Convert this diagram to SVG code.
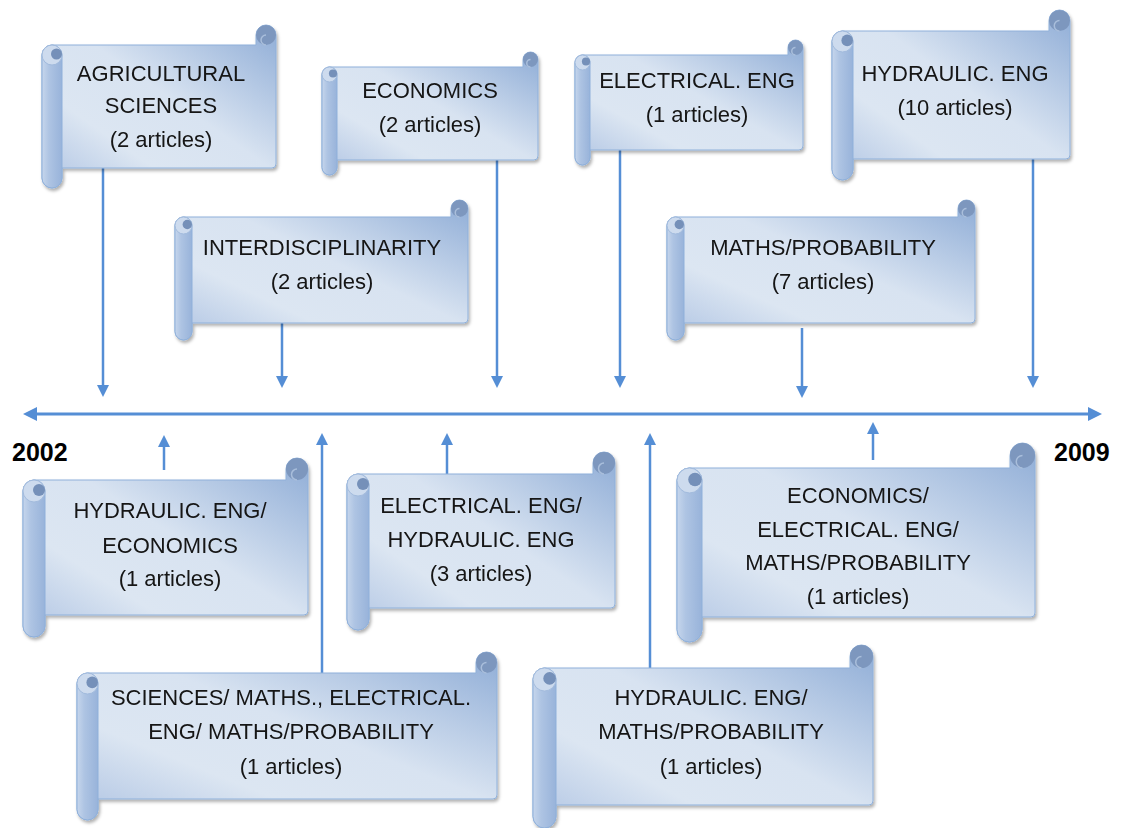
<svg xmlns="http://www.w3.org/2000/svg" width="1124" height="828" viewBox="0 0 1124 828">
<defs>
<linearGradient id="gBody" x1="1" y1="0" x2="0" y2="1">
<stop offset="0" stop-color="#8eacd6"/>
<stop offset="0.45" stop-color="#d8e3f1"/>
<stop offset="0.7" stop-color="#dce6f2"/>
<stop offset="1" stop-color="#adc2e2"/>
</linearGradient>
<linearGradient id="gRoll" x1="0" y1="0" x2="1" y2="0">
<stop offset="0" stop-color="#c6d6ec"/>
<stop offset="0.35" stop-color="#aec4e3"/>
<stop offset="1" stop-color="#98b3da"/>
</linearGradient>
<filter id="sh" x="-5%" y="-5%" width="112%" height="115%">
<feDropShadow dx="1.5" dy="2.5" stdDeviation="1.5" flood-color="#000" flood-opacity="0.3"/>
</filter>
<marker id="ah" viewBox="0 0 12 12" refX="2" refY="6" markerWidth="12" markerHeight="12" markerUnits="userSpaceOnUse" orient="auto-start-reverse">
<path d="M0,0 L12,6 L0,12 Z" fill="#558ed5"/>
</marker>
<marker id="ahL" viewBox="0 0 14 14" refX="2" refY="7" markerWidth="14" markerHeight="14" markerUnits="userSpaceOnUse" orient="auto-start-reverse">
<path d="M0,0 L14,7 L0,14 Z" fill="#558ed5"/>
</marker>
</defs>
<style>
.body{fill:url(#gBody);stroke:#8fb0da;stroke-width:1}
.roll{fill:url(#gRoll);stroke:#8fb0da;stroke-width:1}
.curl{fill:#7d97be}
.hook{fill:none;stroke:#a9bedb;stroke-width:1.5}
.top{fill:#cddbee;stroke:#a2bbdd;stroke-width:1}
.dot{fill:#7590b9}
.node{filter:url(#sh)}
.lbl{font-family:"Liberation Sans",Arial,sans-serif;font-size:22px;fill:#141414;text-anchor:middle}
.yr{font-family:"Liberation Sans",Arial,sans-serif;font-size:25px;font-weight:bold;fill:#000}
.con line{stroke:#558ed5;stroke-width:2.5;marker-end:url(#ah)}
</style>
<rect width="1124" height="828" fill="#fff"/>

<g id="connectors" class="con">
<line x1="35" y1="414" x2="1090" y2="414" style="stroke-width:3;marker-start:url(#ahL);marker-end:url(#ahL)"/>
<line x1="103" y1="168" x2="103" y2="387"/>
<line x1="282" y1="323" x2="282" y2="378"/>
<line x1="497" y1="160" x2="497" y2="378"/>
<line x1="620" y1="150" x2="620" y2="378"/>
<line x1="802" y1="328" x2="802" y2="388"/>
<line x1="1033" y1="159" x2="1033" y2="378"/>
<line x1="164" y1="470" x2="164" y2="445"/>
<line x1="322" y1="673" x2="322" y2="443"/>
<line x1="447" y1="474" x2="447" y2="443"/>
<line x1="650" y1="668" x2="650" y2="443"/>
<line x1="873" y1="460" x2="873" y2="432"/>
</g>

<g id="n-agri" class="node">
<path class="body" d="M42,55 A10,10 0 0 1 52,45 H256 V35 A10,10 0 0 1 276,35 V164 Q276,168 272,168 H62 V178 A10,10 0 0 1 42,178 Z"/>
<path class="roll" d="M42,55 A10,10 0 0 1 62,55 V178 A10,10 0 0 1 42,178 Z"/>
<circle class="top" cx="52" cy="55" r="10"/><circle class="dot" cx="56.5" cy="54" r="5.5"/>
<circle class="curl" cx="266" cy="35" r="10"/><path class="hook" d="M266,45 A5,5 0 0 1 266,35"/>
<text class="lbl"><tspan x="161" y="81">AGRICULTURAL</tspan><tspan x="161" y="113">SCIENCES</tspan><tspan x="161" y="147">(2 articles)</tspan></text>
</g>

<g id="n-econ" class="node">
<path class="body" d="M322,74.5 A7.5,7.5 0 0 1 329.5,67 H523 V59.5 A7.5,7.5 0 0 1 538,59.5 V156 Q538,160 534,160 H337 V167.5 A7.5,7.5 0 0 1 322,167.5 Z"/>
<path class="roll" d="M322,74.5 A7.5,7.5 0 0 1 337,74.5 V167.5 A7.5,7.5 0 0 1 322,167.5 Z"/>
<circle class="top" cx="329.5" cy="74.5" r="7.5"/><circle class="dot" cx="333" cy="73.5" r="4.1"/>
<circle class="curl" cx="530.5" cy="59.5" r="7.5"/><path class="hook" d="M530.5,67 A3.75,3.75 0 0 1 530.5,59.5"/>
<text class="lbl"><tspan x="430" y="98">ECONOMICS</tspan><tspan x="430" y="132">(2 articles)</tspan></text>
</g>

<g id="n-elec" class="node">
<path class="body" d="M575,62.5 A7.5,7.5 0 0 1 582.5,55 H788 V47.5 A7.5,7.5 0 0 1 803,47.5 V146 Q803,150 799,150 H590 V157.5 A7.5,7.5 0 0 1 575,157.5 Z"/>
<path class="roll" d="M575,62.5 A7.5,7.5 0 0 1 590,62.5 V157.5 A7.5,7.5 0 0 1 575,157.5 Z"/>
<circle class="top" cx="582.5" cy="62.5" r="7.5"/><circle class="dot" cx="586" cy="61.5" r="4.1"/>
<circle class="curl" cx="795.5" cy="47.5" r="7.5"/><path class="hook" d="M795.5,55 A3.75,3.75 0 0 1 795.5,47.5"/>
<text class="lbl"><tspan x="697" y="88">ELECTRICAL. ENG</tspan><tspan x="697" y="122">(1 articles)</tspan></text>
</g>

<g id="n-hyd" class="node">
<path class="body" d="M832,41.5 A10.5,10.5 0 0 1 842.5,31 H1049 V20.5 A10.5,10.5 0 0 1 1070,20.5 V155 Q1070,159 1066,159 H853 V169.5 A10.5,10.5 0 0 1 832,169.5 Z"/>
<path class="roll" d="M832,41.5 A10.5,10.5 0 0 1 853,41.5 V169.5 A10.5,10.5 0 0 1 832,169.5 Z"/>
<circle class="top" cx="842.5" cy="41.5" r="10.5"/><circle class="dot" cx="847.2" cy="40.4" r="5.8"/>
<circle class="curl" cx="1059.5" cy="20.5" r="10.5"/><path class="hook" d="M1059.5,31 A5.25,5.25 0 0 1 1059.5,20.5"/>
<text class="lbl"><tspan x="955" y="81">HYDRAULIC. ENG</tspan><tspan x="955" y="115">(10 articles)</tspan></text>
</g>

<g id="n-inter" class="node">
<path class="body" d="M175,225.5 A8.5,8.5 0 0 1 183.5,217 H451 V208.5 A8.5,8.5 0 0 1 468,208.5 V319 Q468,323 464,323 H192 V331.5 A8.5,8.5 0 0 1 175,331.5 Z"/>
<path class="roll" d="M175,225.5 A8.5,8.5 0 0 1 192,225.5 V331.5 A8.5,8.5 0 0 1 175,331.5 Z"/>
<circle class="top" cx="183.5" cy="225.5" r="8.5"/><circle class="dot" cx="187.3" cy="224.5" r="4.7"/>
<circle class="curl" cx="459.5" cy="208.5" r="8.5"/><path class="hook" d="M459.5,217 A4.25,4.25 0 0 1 459.5,208.5"/>
<text class="lbl"><tspan x="322" y="255">INTERDISCIPLINARITY</tspan><tspan x="322" y="289">(2 articles)</tspan></text>
</g>

<g id="n-maths" class="node">
<path class="body" d="M667,225.5 A8.5,8.5 0 0 1 675.5,217 H958 V208.5 A8.5,8.5 0 0 1 975,208.5 V319 Q975,323 971,323 H684 V331.5 A8.5,8.5 0 0 1 667,331.5 Z"/>
<path class="roll" d="M667,225.5 A8.5,8.5 0 0 1 684,225.5 V331.5 A8.5,8.5 0 0 1 667,331.5 Z"/>
<circle class="top" cx="675.5" cy="225.5" r="8.5"/><circle class="dot" cx="679.3" cy="224.5" r="4.7"/>
<circle class="curl" cx="966.5" cy="208.5" r="8.5"/><path class="hook" d="M966.5,217 A4.25,4.25 0 0 1 966.5,208.5"/>
<text class="lbl"><tspan x="823" y="255">MATHS/PROBABILITY</tspan><tspan x="823" y="289">(7 articles)</tspan></text>
</g>

<g id="n-hyd-econ" class="node">
<path class="body" d="M23,491 A11,11 0 0 1 34,480 H286 V469 A11,11 0 0 1 308,469 V611 Q308,615 304,615 H45 V626 A11,11 0 0 1 23,626 Z"/>
<path class="roll" d="M23,491 A11,11 0 0 1 45,491 V626 A11,11 0 0 1 23,626 Z"/>
<circle class="top" cx="34" cy="491" r="11"/><circle class="dot" cx="39" cy="490" r="6"/>
<circle class="curl" cx="297" cy="469" r="11"/><path class="hook" d="M297,480 A5.5,5.5 0 0 1 297,469"/>
<text class="lbl"><tspan x="170" y="518">HYDRAULIC. ENG/</tspan><tspan x="170" y="553">ECONOMICS</tspan><tspan x="170" y="586">(1 articles)</tspan></text>
</g>

<g id="n-elec-hyd" class="node">
<path class="body" d="M347,485 A11,11 0 0 1 358,474 H593 V463 A11,11 0 0 1 615,463 V604 Q615,608 611,608 H369 V619 A11,11 0 0 1 347,619 Z"/>
<path class="roll" d="M347,485 A11,11 0 0 1 369,485 V619 A11,11 0 0 1 347,619 Z"/>
<circle class="top" cx="358" cy="485" r="11"/><circle class="dot" cx="363" cy="484" r="6"/>
<circle class="curl" cx="604" cy="463" r="11"/><path class="hook" d="M604,474 A5.5,5.5 0 0 1 604,463"/>
<text class="lbl"><tspan x="481" y="513">ELECTRICAL. ENG/</tspan><tspan x="481" y="547">HYDRAULIC. ENG</tspan><tspan x="481" y="581">(3 articles)</tspan></text>
</g>

<g id="n-econ-elec-maths" class="node">
<path class="body" d="M677,480.5 A12.5,12.5 0 0 1 689.5,468 H1010 V455.5 A12.5,12.5 0 0 1 1035,455.5 V613 Q1035,617 1031,617 H702 V629.5 A12.5,12.5 0 0 1 677,629.5 Z"/>
<path class="roll" d="M677,480.5 A12.5,12.5 0 0 1 702,480.5 V629.5 A12.5,12.5 0 0 1 677,629.5 Z"/>
<circle class="top" cx="689.5" cy="480.5" r="12.5"/><circle class="dot" cx="695" cy="479.5" r="6.8"/>
<circle class="curl" cx="1022.5" cy="455.5" r="12.5"/><path class="hook" d="M1022.5,468 A6.25,6.25 0 0 1 1022.5,455.5"/>
<text class="lbl"><tspan x="858" y="503">ECONOMICS/</tspan><tspan x="858" y="537">ELECTRICAL. ENG/</tspan><tspan x="858" y="570">MATHS/PROBABILITY</tspan><tspan x="858" y="604">(1 articles)</tspan></text>
</g>

<g id="n-sciences" class="node">
<path class="body" d="M77,683.5 A10.5,10.5 0 0 1 87.5,673 H476 V662.5 A10.5,10.5 0 0 1 497,662.5 V795 Q497,799 493,799 H98 V809.5 A10.5,10.5 0 0 1 77,809.5 Z"/>
<path class="roll" d="M77,683.5 A10.5,10.5 0 0 1 98,683.5 V809.5 A10.5,10.5 0 0 1 77,809.5 Z"/>
<circle class="top" cx="87.5" cy="683.5" r="10.5"/><circle class="dot" cx="92.2" cy="682.4" r="5.8"/>
<circle class="curl" cx="486.5" cy="662.5" r="10.5"/><path class="hook" d="M486.5,673 A5.25,5.25 0 0 1 486.5,662.5"/>
<text class="lbl"><tspan x="291" y="705">SCIENCES/ MATHS., ELECTRICAL.</tspan><tspan x="291" y="739">ENG/ MATHS/PROBABILITY</tspan><tspan x="291" y="774">(1 articles)</tspan></text>
</g>

<g id="n-hyd-maths" class="node">
<path class="body" d="M533,679.5 A11.5,11.5 0 0 1 544.5,668 H850 V656.5 A11.5,11.5 0 0 1 873,656.5 V801 Q873,805 869,805 H556 V816.5 A11.5,11.5 0 0 1 533,816.5 Z"/>
<path class="roll" d="M533,679.5 A11.5,11.5 0 0 1 556,679.5 V816.5 A11.5,11.5 0 0 1 533,816.5 Z"/>
<circle class="top" cx="544.5" cy="679.5" r="11.5"/><circle class="dot" cx="549.6" cy="678.4" r="6.3"/>
<circle class="curl" cx="861.5" cy="656.5" r="11.5"/><path class="hook" d="M861.5,668 A5.75,5.75 0 0 1 861.5,656.5"/>
<text class="lbl"><tspan x="711" y="705">HYDRAULIC. ENG/</tspan><tspan x="711" y="739">MATHS/PROBABILITY</tspan><tspan x="711" y="774">(1 articles)</tspan></text>
</g>

<text class="yr" x="12" y="461">2002</text>
<text class="yr" x="1054" y="461">2009</text>
</svg>
